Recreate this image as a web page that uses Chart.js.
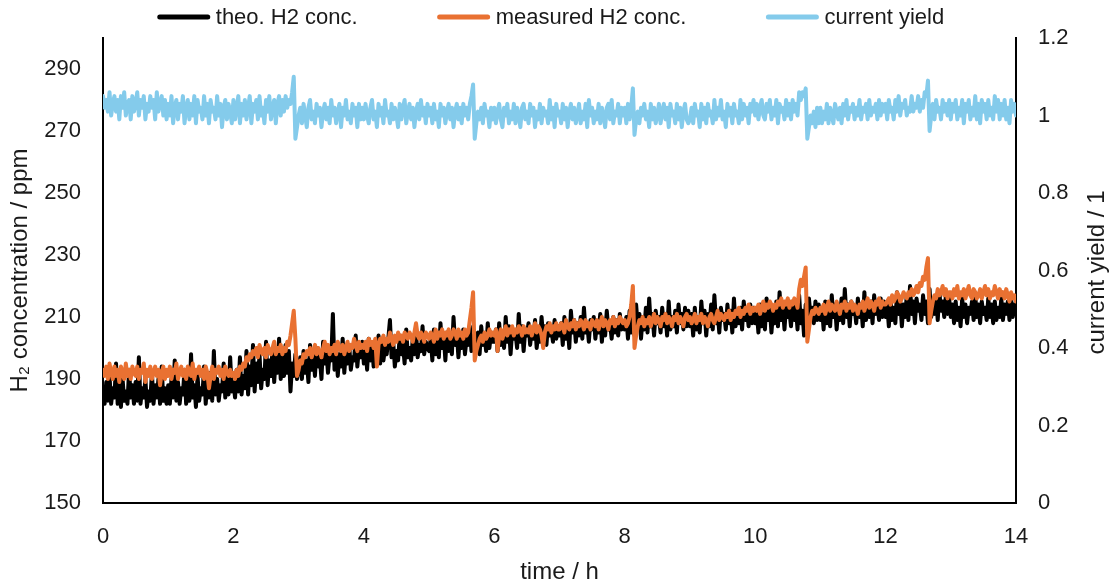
<!DOCTYPE html>
<html><head><meta charset="utf-8">
<script src="https://cdn.jsdelivr.net/npm/chart.js@4.4.1/dist/chart.umd.min.js"></script>
<style>html,body{margin:0;padding:0;background:#fff;}#wrap{width:1110px;height:583px;}</style>
</head><body><div id="wrap"><canvas id="c" width="1110" height="583"></canvas></div>
<script>
// sampling interval of the logged series (hours)
const timeStepHours = 0.025;

// theo. H2 conc. / ppm (two rows per hour)
const theoH2 = [
186,182,189,183,191,182,187,184,195,182,188,181,190,183,186,182,193,184,188,182,
189,183,197,182,187,184,190,181,186,183,192,182,188,184,190,182,194,183,187,182,
188,182,190,184,196,183,189,182,187,185,193,182,190,183,198,184,188,181,191,183,
187,185,194,182,189,184,192,183,199,185,190,183,188,186,195,184,191,185,197,186,
189,184,193,186,197,185,191,187,199,185,194,188,201,186,195,189,198,187,193,190,
202,188,196,191,200,189,197,192,203,190,198,191,201,192,199,186,195,191,198,190,
193,197,190,199,192,196,189,201,193,198,191,200,194,197,190,202,195,199,192,198,
196,211,193,200,191,198,194,203,192,199,195,201,193,197,196,204,194,200,197,202,
195,200,193,203,196,201,194,199,197,204,195,202,196,200,198,203,209,197,202,194,
199,196,204,198,201,195,206,197,200,196,203,198,205,197,201,199,207,198,202,200,
199,203,196,206,198,202,197,208,200,204,196,205,199,203,198,210,201,205,197,204,
200,206,198,203,201,207,199,204,202,200,205,198,207,201,204,199,208,200,205,202,
202,206,199,208,201,205,200,210,202,207,198,206,203,205,200,211,202,207,199,206,
204,208,201,206,203,209,200,205,202,210,203,207,201,208,204,206,202,209,203,207,
204,208,201,210,203,207,200,212,205,209,202,208,204,210,203,213,205,208,202,209,
206,210,203,208,205,211,202,209,204,212,206,208,203,210,205,209,204,211,206,208,
206,210,203,212,205,209,204,214,207,211,203,210,206,213,205,216,207,211,204,212,
208,210,205,213,207,211,204,215,206,210,207,212,205,214,208,211,206,213,207,212,
207,211,204,213,206,210,205,215,208,212,204,211,207,214,206,217,208,212,205,213,
209,211,206,214,208,212,205,216,207,211,208,213,206,215,209,212,207,214,208,213,
208,212,205,214,207,211,206,216,209,213,205,212,208,215,207,218,209,213,206,214,
210,212,207,215,209,213,206,217,208,212,204,214,207,216,210,213,208,215,209,214,
209,213,206,215,208,212,207,217,210,214,206,213,209,216,208,219,210,214,207,215,
211,213,208,216,210,214,207,218,209,213,210,215,208,217,211,214,209,216,210,215,
210,214,207,216,209,213,208,218,211,215,207,214,210,217,209,220,211,215,208,216,
212,214,209,217,211,215,208,219,210,214,211,216,209,218,212,215,210,217,211,216,
210,214,208,215,209,213,207,216,210,214,208,213,211,215,209,217,210,214,208,215,
211,213,209,216,210,214,208,215,209,213,210,216,209,214,211,215,209,216,210,214,
211];

// measured H2 conc. / ppm
const measuredH2 = [
193,191,194,190,195,192,190,194,191,193,189,194,192,190,195,191,193,190,194,192,
191,194,190,193,192,195,189,193,191,194,190,192,194,191,193,188,192,194,190,193,
191,194,190,193,192,195,190,192,194,191,193,190,194,192,191,195,190,193,192,194,
191,193,190,194,192,187,191,194,190,193,192,194,191,193,190,194,192,191,193,191,
192,190,193,191,194,193,195,194,197,196,198,197,199,198,200,197,201,199,198,200,
197,201,199,198,200,202,198,200,199,201,198,200,199,202,201,204,208,212,203,191,
193,196,195,198,197,199,198,200,197,199,201,198,200,199,197,200,202,199,201,198,
200,199,201,198,202,200,199,201,198,200,202,199,201,200,203,201,199,202,200,201,
200,202,199,203,201,202,200,203,194,201,203,202,204,201,203,202,205,203,201,204,
202,205,203,204,202,205,204,203,205,204,202,205,208,204,203,205,204,202,205,204,
203,205,204,202,206,203,205,204,206,203,205,204,206,203,204,206,205,203,206,204,
205,203,206,204,205,209,213,218,196,199,201,203,204,202,205,203,204,206,204,205,
204,206,199,204,206,203,205,207,204,206,205,207,204,206,205,207,206,204,207,205,
206,205,207,204,206,208,205,207,206,204,200,205,207,206,208,205,207,206,208,206,
206,208,207,205,209,207,206,208,207,209,206,208,207,209,208,206,209,207,208,206,
209,208,207,209,206,208,210,207,209,208,206,209,208,210,207,209,208,210,209,208,
209,207,208,210,214,220,200,204,207,209,208,210,207,209,208,210,207,209,211,208,
210,209,207,210,209,211,208,210,209,207,210,209,211,208,210,209,207,210,211,209,
210,208,209,211,208,210,209,211,208,210,209,207,210,211,209,208,210,212,209,211,
210,209,211,210,212,209,211,210,212,211,213,210,212,211,213,212,214,211,213,212,
213,212,214,211,213,215,212,214,213,215,214,212,214,213,215,214,216,213,215,214,
216,213,215,214,216,215,213,219,222,220,223,226,202,206,210,212,211,213,212,211,
213,212,214,211,213,215,212,214,213,212,215,213,211,214,213,215,212,214,213,215,
212,214,213,211,214,213,215,212,214,216,213,215,214,212,215,214,216,213,215,214,
214,215,216,214,217,215,216,218,217,215,216,218,217,216,218,217,219,217,218,220,
218,221,220,223,222,226,229,208,212,215,217,216,219,217,218,220,217,219,216,218,
218,216,219,217,220,216,218,217,219,216,218,220,217,216,219,218,216,217,219,216,
218,220,217,219,216,218,217,220,218,216,219,217,218,216,219,217,215,218,216,217,
215];

// current yield / 1
const currentYield = [
1.05,1.02,1.04,1.01,1.06,1.00,1.03,1.05,1.01,1.04,0.99,1.05,1.02,1.06,1.00,1.03,1.04,0.99,1.05,1.01,
1.03,1.06,1.00,1.04,1.02,1.05,0.99,1.03,1.01,1.05,1.02,1.04,0.99,1.06,1.01,1.03,1.05,1.00,1.04,0.99,
1.03,1.00,1.05,0.98,1.02,1.04,0.99,1.03,1.01,1.05,0.98,1.02,1.04,0.99,1.03,1.00,1.05,0.98,1.04,1.01,
1.02,0.99,1.05,1.00,1.03,0.98,1.04,1.01,1.02,0.99,1.05,1.00,1.03,0.97,1.02,1.04,0.99,1.03,1.01,0.98,
1.04,0.99,1.02,1.05,0.98,1.03,1.00,1.04,0.99,1.02,1.05,0.98,1.03,1.01,1.04,0.99,1.05,1.00,1.02,0.98,
1.04,1.01,1.05,0.99,1.02,1.04,0.98,1.03,1.05,1.00,1.04,1.01,1.05,1.02,1.04,1.03,1.06,1.10,0.94,0.97,
1.00,1.02,0.98,1.03,1.00,0.97,1.02,1.04,0.99,1.01,0.98,1.03,1.00,1.02,0.97,1.01,1.03,0.99,1.02,0.98,
1.04,1.00,1.02,0.98,1.01,1.03,0.97,1.02,1.00,1.04,0.99,1.01,0.98,1.03,1.00,1.02,0.97,1.03,0.99,1.02,
0.99,1.03,1.00,0.98,1.02,1.04,0.99,1.01,0.97,1.03,1.00,1.02,0.98,1.04,1.00,1.01,0.98,1.03,0.99,1.02,
1.00,0.97,1.03,0.99,1.02,1.04,0.98,1.01,1.03,0.99,1.02,0.97,1.01,1.03,0.99,1.04,1.00,1.02,0.98,1.03,
1.00,1.02,0.98,1.03,0.99,1.01,0.97,1.03,1.00,1.02,0.98,1.01,1.03,0.99,1.02,0.97,1.01,1.03,0.99,1.02,
0.98,1.03,1.00,1.02,0.99,1.03,1.05,1.08,0.94,0.98,1.01,0.99,1.02,0.98,1.03,1.00,1.01,0.97,1.02,0.99,
1.02,0.98,1.01,1.03,0.99,0.97,1.02,1.00,1.03,0.98,1.01,0.99,1.03,0.98,1.02,1.00,0.97,1.02,1.03,0.99,
1.01,0.98,1.03,1.00,1.02,0.97,1.01,0.99,1.03,0.98,1.02,1.00,1.01,0.98,1.04,0.99,1.02,0.97,1.03,1.00,
1.01,0.98,1.03,0.99,1.02,0.97,1.01,1.03,0.99,1.02,0.98,1.00,1.03,0.98,1.01,0.99,1.03,0.97,1.04,1.00,
1.02,0.98,1.01,0.99,1.03,0.98,1.02,1.00,0.97,1.02,1.03,0.99,1.04,0.98,1.01,1.00,1.03,0.98,1.02,1.00,
1.02,0.98,1.03,0.99,1.02,1.07,0.95,0.99,1.01,0.98,1.02,1.00,1.03,0.99,1.01,0.97,1.03,0.99,1.02,0.98,
1.00,1.03,0.98,1.01,1.03,0.99,1.02,0.97,1.03,1.00,1.01,0.98,1.03,0.99,1.02,0.97,1.01,1.03,0.99,0.98,
0.99,1.02,0.98,1.03,1.00,1.01,0.97,1.03,0.99,1.02,0.98,1.03,1.00,1.01,0.98,1.04,0.99,1.02,1.00,1.04,
0.99,1.01,0.97,1.03,1.00,1.02,0.98,1.03,1.00,1.01,0.98,1.04,0.99,1.03,1.00,1.02,0.98,1.03,1.01,1.04,
1.00,1.03,0.99,1.02,1.04,1.00,0.99,1.03,1.01,1.04,0.99,1.02,1.00,1.04,0.98,1.03,1.01,1.02,0.99,1.04,
1.00,1.03,0.99,1.04,1.01,1.03,1.00,1.06,1.04,1.06,1.05,1.07,0.94,0.97,1.00,0.98,1.01,0.97,1.02,0.98,
1.02,0.98,1.01,0.99,1.03,0.98,1.02,1.00,0.98,1.03,1.01,0.99,1.02,0.98,1.03,1.00,1.04,0.99,1.02,1.01,
1.03,0.99,1.02,1.00,1.04,0.99,1.02,1.01,1.03,0.99,1.04,1.00,1.02,1.01,1.03,0.99,1.04,1.00,1.03,1.01,
1.03,0.99,1.04,1.01,1.02,0.99,1.04,1.01,1.05,1.00,1.03,1.02,1.04,1.00,1.02,1.01,1.05,1.01,1.03,1.02,
1.05,1.01,1.04,1.02,1.06,1.05,1.09,0.96,1.00,1.03,0.99,1.04,1.01,1.02,0.99,1.04,1.01,1.03,1.00,1.04,
0.99,1.03,1.01,1.04,0.99,1.02,1.00,1.04,0.98,1.03,1.01,1.04,0.99,1.02,1.00,1.05,0.99,1.03,0.98,1.04,
1.01,1.03,0.99,1.04,1.00,1.02,0.99,1.05,1.01,1.04,0.99,1.03,1.00,1.04,0.99,1.02,0.98,1.04,1.01,1.03,
1.00];

const xTickValues = [0, 2, 4, 6, 8, 10, 12, 14];
const leftTickValues = [150, 170, 190, 210, 230, 250, 270, 290];
const rightTickValues = [0, 0.2, 0.4, 0.6, 0.8, 1, 1.2];
const rightTickLabels = ['0', '0.2', '0.4', '0.6', '0.8', '1', '1.2'];
const seriesNames = ['theo. H2 conc.', 'measured H2 conc.', 'current yield'];
const seriesColors = ['#000000', '#E97132', '#84CBEB'];
const xTitle = 'time / h';
const leftTitle = 'H\u2082 concentration / ppm';
const rightTitle = 'current yield / 1';

const FONT = '"Liberation Sans", Arial, sans-serif';
const TXT = '#1a1a1a';

const toPts = arr => arr.map((v, i) => ({x: +(i * timeStepHours).toFixed(3), y: v}));

const lineStyle = {pointRadius: 0, borderWidth: 4, tension: 0, fill: false,
  borderJoinStyle: 'round', borderCapStyle: 'round'};

const extras = {
  id: 'extras',
  afterDraw(chart) {
    const ctx = chart.ctx;
    const area = chart.chartArea;
    ctx.save();
    // legend
    ctx.font = '22px ' + FONT;
    const lineLen = 52, gapText = 6, gapItem = 80, y = 17;
    const widths = seriesNames.map(n => ctx.measureText(n).width);
    const total = widths.reduce((a, w) => a + lineLen + gapText + w, 0) + gapItem * (seriesNames.length - 1);
    let x = 551 - total / 2;
    seriesNames.forEach((n, i) => {
      ctx.strokeStyle = seriesColors[i];
      ctx.lineWidth = 5;
      ctx.lineCap = 'round';
      ctx.beginPath(); ctx.moveTo(x + 2, y); ctx.lineTo(x + lineLen - 2, y); ctx.stroke();
      ctx.fillStyle = TXT; ctx.textAlign = 'left'; ctx.textBaseline = 'middle';
      ctx.fillText(n, x + lineLen + gapText, y + 1);
      x += lineLen + gapText + widths[i] + gapItem;
    });
    // right axis title (reads bottom-to-top)
    ctx.font = '24px ' + FONT;
    ctx.translate(chart.width - 13, (area.top + area.bottom) / 2 + 2);
    ctx.rotate(-Math.PI / 2);
    ctx.textAlign = 'center'; ctx.textBaseline = 'middle';
    ctx.fillText(rightTitle, 0, 0);
    ctx.restore();
  }
};

new Chart(document.getElementById('c'), {
  type: 'line',
  data: {
    datasets: [
      Object.assign({label: seriesNames[0], data: toPts(theoH2), borderColor: seriesColors[0], backgroundColor: seriesColors[0], yAxisID: 'y', order: 2}, lineStyle),
      Object.assign({label: seriesNames[1], data: toPts(measuredH2), borderColor: seriesColors[1], backgroundColor: seriesColors[1], yAxisID: 'y', order: 1}, lineStyle),
      Object.assign({label: seriesNames[2], data: toPts(currentYield), borderColor: seriesColors[2], backgroundColor: seriesColors[2], yAxisID: 'y1', order: 0}, lineStyle)
    ]
  },
  options: {
    responsive: false,
    animation: false,
    devicePixelRatio: 1,
    layout: {padding: {top: 38, left: 0, right: 0, bottom: 0}},
    plugins: {legend: {display: false}, tooltip: {enabled: false}},
    scales: {
      x: {
        type: 'linear', min: 0, max: 14,
        grid: {display: false, drawTicks: false},
        border: {display: true, color: '#000', width: 2},
        afterBuildTicks: s => { s.ticks = xTickValues.map(v => ({value: v})); },
        afterFit: s => { s.height = 80; },
        ticks: {color: TXT, font: {family: FONT, size: 22}, padding: 21, maxRotation: 0,
          callback: v => String(v)},
        title: {display: true, text: xTitle, color: TXT, font: {family: FONT, size: 24}, padding: {top: 0, bottom: -4}}
      },
      y: {
        type: 'linear', position: 'left', min: 150, max: 300,
        grid: {display: false, drawTicks: false},
        border: {display: true, color: '#000', width: 2},
        afterBuildTicks: s => { s.ticks = leftTickValues.map(v => ({value: v})); },
        afterFit: s => { s.width = 103; },
        ticks: {color: TXT, font: {family: FONT, size: 22}, padding: 22, callback: v => String(v)},
        title: {display: true, text: leftTitle, color: TXT, font: {family: FONT, size: 24}, padding: {top: 6, bottom: 0}}
      },
      y1: {
        type: 'linear', position: 'right', min: 0, max: 1.2,
        grid: {display: false, drawTicks: false},
        border: {display: true, color: '#000', width: 2},
        afterBuildTicks: s => { s.ticks = rightTickValues.map(v => ({value: v})); },
        afterFit: s => { s.width = 94; },
        ticks: {color: TXT, font: {family: FONT, size: 22}, padding: 22,
          callback: (v) => rightTickLabels[rightTickValues.findIndex(t => Math.abs(t - v) < 1e-9)]}
      }
    }
  },
  plugins: [extras]
});
</script>
</body></html>
